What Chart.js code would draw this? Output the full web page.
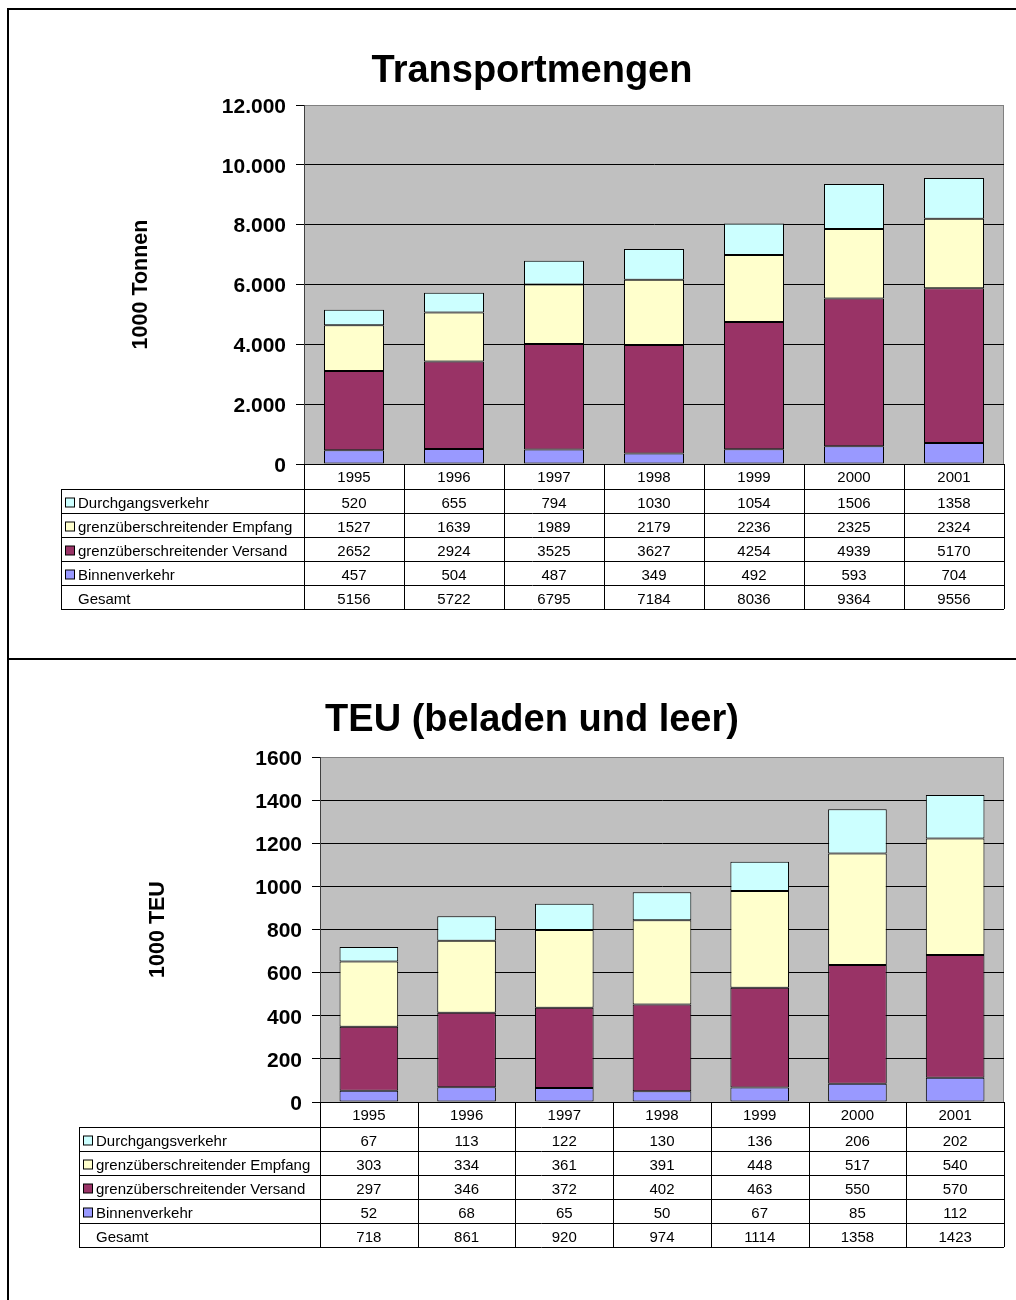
<!DOCTYPE html>
<html>
<head>
<meta charset="utf-8">
<script src="https://cdn.jsdelivr.net/npm/chart.js@4.4.1/dist/chart.umd.min.js"></script>
<style>
    body { margin: 0; background: #fff; }
    #page { position: relative; width: 1016px; height: 1300px; overflow: hidden; }
    canvas { position: absolute; left: 0; }
    .rule { position: absolute; background: #000; }
</style>
</head>
<body>
<div id="page">
    <canvas id="tonChart" width="1016" height="658" style="top:0"></canvas>
    <canvas id="teuChart" width="1016" height="640" style="top:660px"></canvas>
    <div class="rule" style="left:7px;top:8px;width:1009px;height:2px"></div>
    <div class="rule" style="left:7px;top:8px;width:2px;height:1292px"></div>
    <div class="rule" style="left:7px;top:658px;width:1009px;height:2px"></div>
</div>
<script>
// ---- data ----
const years = ['1995', '1996', '1997', '1998', '1999', '2000', '2001'];

const seriesNames = ['Durchgangsverkehr', 'grenzüberschreitender Empfang', 'grenzüberschreitender Versand', 'Binnenverkehr'];
const seriesColors = ['#CCFFFF', '#FFFFCC', '#993366', '#9999FF'];

// Transportmengen (1000 t)
const tonDurchgang = [520, 655, 794, 1030, 1054, 1506, 1358];
const tonEmpfang   = [1527, 1639, 1989, 2179, 2236, 2325, 2324];
const tonVersand   = [2652, 2924, 3525, 3627, 4254, 4939, 5170];
const tonBinnen    = [457, 504, 487, 349, 492, 593, 704];
const tonGesamt    = [5156, 5722, 6795, 7184, 8036, 9364, 9556];

// TEU (1000 TEU)
const teuDurchgang = [67, 113, 122, 130, 136, 206, 202];
const teuEmpfang   = [303, 334, 361, 391, 448, 517, 540];
const teuVersand   = [297, 346, 372, 402, 463, 550, 570];
const teuBinnen    = [52, 68, 65, 50, 67, 85, 112];
const teuGesamt    = [718, 861, 920, 974, 1114, 1358, 1423];

const FONT = 'Arial, "Liberation Sans", sans-serif';

const dotted = v => String(v).replace(/\B(?=(\d{3})+(?!\d))/g, '.');

// gray plot area + title
const plotBg = {
    id: 'plotBg',
    beforeDraw(chart, args, opts) {
        const { ctx, chartArea: a } = chart;
        ctx.save();
        ctx.fillStyle = '#C0C0C0';
        ctx.fillRect(a.left, a.top, a.right - a.left, a.bottom - a.top);
        ctx.strokeStyle = '#808080';
        ctx.lineWidth = 1;
        ctx.strokeRect(a.left + 0.5, a.top + 0.5, a.right - a.left - 1, a.bottom - a.top);
        ctx.fillStyle = '#000';
        ctx.font = 'bold 38px ' + FONT;
        ctx.textAlign = 'center';
        ctx.textBaseline = 'middle';
        ctx.fillText(opts.title, opts.titleX, opts.titleY);
        ctx.restore();
    }
};

// data table under the plot
const dataTable = {
    id: 'dataTable',
    afterDraw(chart, args, opts) {
        const { ctx } = chart;
        const x = chart.scales.x;
        const top = chart.chartArea.bottom;
        const n = years.length;
        const colW = (x.right - x.left) / n;
        const headH = 25, rowH = 24;
        const rows = opts.rows;
        const bottom = top + headH + rows.length * rowH;
        const L = opts.left;

        ctx.save();
        ctx.strokeStyle = '#000';
        ctx.lineWidth = 1;
        ctx.beginPath();
        // axis line + tick stub
        ctx.moveTo(x.left - 8, top + 0.5); ctx.lineTo(x.right, top + 0.5);
        for (let i = 0; i <= rows.length; i++) {
            const y = Math.round(top + headH + i * rowH) + 0.5;
            ctx.moveTo(L, y); ctx.lineTo(x.right, y);
        }
        ctx.moveTo(L + 0.5, top + headH); ctx.lineTo(L + 0.5, bottom);
        for (let i = 0; i <= n; i++) {
            const xx = Math.round(x.left + i * colW) + 0.5;
            ctx.moveTo(xx, top); ctx.lineTo(xx, bottom);
        }
        ctx.stroke();

        ctx.fillStyle = '#000';
        ctx.font = '15px ' + FONT;
        ctx.textBaseline = 'middle';
        ctx.textAlign = 'center';
        years.forEach((yr, i) => ctx.fillText(yr, x.getPixelForValue(i), top + headH / 2 + 1.5));

        rows.forEach((r, ri) => {
            const cy = top + headH + ri * rowH + rowH / 2 + 2.5;
            if (r.color) {
                ctx.fillStyle = r.color;
                ctx.fillRect(L + 4.5, cy - 5.5, 9, 9);
                ctx.strokeRect(L + 4.5, cy - 5.5, 9, 9);
            }
            ctx.fillStyle = '#000';
            ctx.textAlign = 'left';
            ctx.fillText(r.label, L + 17, cy);
            ctx.textAlign = 'center';
            r.values.forEach((v, i) => ctx.fillText(String(v), x.getPixelForValue(i), cy));
        });
        ctx.restore();
    }
};

function makeChart(id, cfg) {
    const series = [cfg.binnen, cfg.versand, cfg.empfang, cfg.durchgang];
    const order = [3, 2, 1, 0];
    return new Chart(document.getElementById(id), {
        type: 'bar',
        data: {
            labels: years,
            datasets: series.map((d, k) => ({
                label: seriesNames[order[k]],
                data: d,
                backgroundColor: seriesColors[order[k]],
                borderColor: '#000',
                borderWidth: 1,
                borderSkipped: false,
                categoryPercentage: 1,
                barPercentage: 0.6
            }))
        },
        options: {
            responsive: false,
            animation: false,
            layout: { padding: { top: cfg.top, left: 0, right: 12, bottom: 0 } },
            plugins: {
                legend: { display: false },
                tooltip: { enabled: false },
                plotBg: { title: cfg.title, titleX: 532, titleY: cfg.titleY },
                dataTable: {
                    left: cfg.tableLeft,
                    rows: [
                        { label: seriesNames[0], color: seriesColors[0], values: cfg.durchgang },
                        { label: seriesNames[1], color: seriesColors[1], values: cfg.empfang },
                        { label: seriesNames[2], color: seriesColors[2], values: cfg.versand },
                        { label: seriesNames[3], color: seriesColors[3], values: cfg.binnen },
                        { label: 'Gesamt', color: null, values: cfg.gesamt }
                    ]
                }
            },
            scales: {
                x: {
                    stacked: true,
                    grid: { display: false },
                    border: { display: false },
                    ticks: { display: false },
                    afterFit: s => { s.height = cfg.xHeight; }
                },
                y: {
                    stacked: true,
                    min: 0,
                    max: cfg.max,
                    ticks: {
                        stepSize: cfg.step,
                        color: '#000',
                        padding: 10,
                        labelOffset: 2,
                        font: { family: FONT, size: 21, weight: 'bold' },
                        callback: cfg.fmt
                    },
                    grid: {
                        color: c => (c.tick && (c.tick.value === 0 || c.tick.value === cfg.max)) ? 'rgba(0,0,0,0)' : '#000',
                        tickColor: '#000',
                        tickLength: 8,
                        lineWidth: 1
                    },
                    border: { display: true, color: '#404040' },
                    title: {
                        display: true,
                        text: cfg.yTitle,
                        color: '#000',
                        font: { family: FONT, size: 21.5, weight: 'bold' },
                        padding: { top: cfg.yTitleX - 12.9, bottom: 0 }
                    },
                    afterFit: s => { s.width = cfg.plotLeft; }
                }
            }
        },
        plugins: [plotBg, dataTable]
    });
}

makeChart('tonChart', {
    title: 'Transportmengen', titleY: 72,
    top: 105, xHeight: 658 - 464, plotLeft: 304, tableLeft: 61,
    max: 12000, step: 2000, fmt: v => dotted(v),
    yTitle: '1000 Tonnen', yTitleX: 141,
    durchgang: tonDurchgang, empfang: tonEmpfang, versand: tonVersand, binnen: tonBinnen, gesamt: tonGesamt
});

makeChart('teuChart', {
    title: 'TEU (beladen und leer)', titleY: 721 - 660,
    top: 757 - 660, xHeight: 640 - (1102 - 660), plotLeft: 320, tableLeft: 79,
    max: 1600, step: 200, fmt: v => String(v),
    yTitle: '1000 TEU', yTitleX: 158,
    durchgang: teuDurchgang, empfang: teuEmpfang, versand: teuVersand, binnen: teuBinnen, gesamt: teuGesamt
});
</script>
</body>
</html>
